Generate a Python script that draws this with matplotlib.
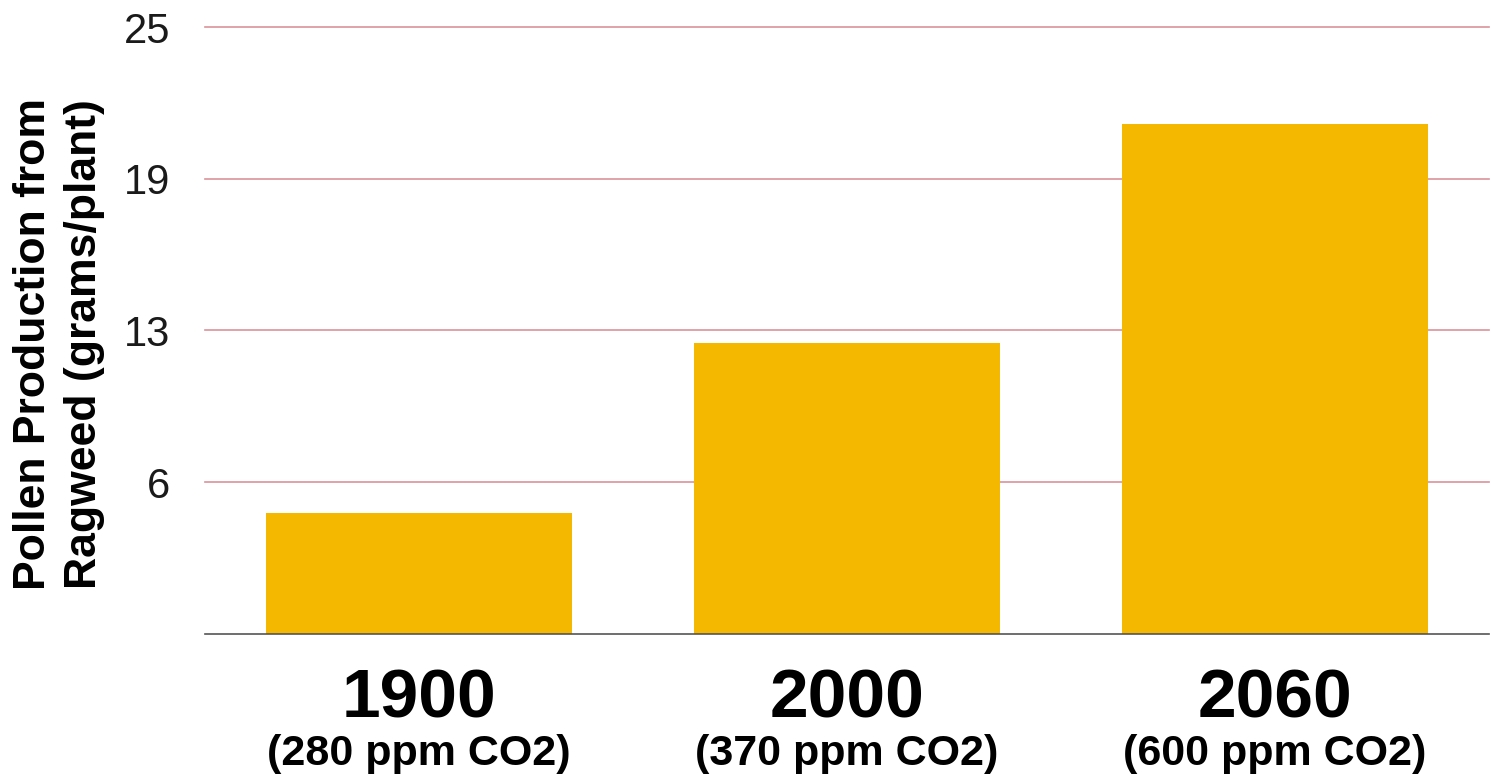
import matplotlib
matplotlib.use("Agg")
import matplotlib.pyplot as plt

years = ["1900", "2000", "2060"]
co2 = ["(280 ppm CO2)", "(370 ppm CO2)", "(600 ppm CO2)"]
pollen = [5, 12, 21]
ytick_vals = [6.25, 12.5, 18.75, 25]
ytick_labels = ["6", "13", "19", "25"]

plt.rcParams['font.family'] = ['Liberation Sans', 'DejaVu Sans']

fig = plt.figure(figsize=(14.91, 7.74), dpi=100)
ax = fig.add_axes([0.1375, 0.1809, 0.8612, 0.7842])

x = range(len(years))
ax.bar(x, pollen, width=0.713, color='#f5b800', zorder=2)

ax.set_xlim(-0.5, 2.5)
ax.set_ylim(0, 25)
ax.set_yticks(ytick_vals)
ax.set_yticklabels(ytick_labels, fontsize=30, color='#1a1a1a')
ax.tick_params(axis='y', length=0, pad=25)
ax.set_xticks([])
ax.yaxis.grid(True, color='#d9939b', linewidth=1.2, zorder=0)
for gl in ax.get_ygridlines():
    gl.set_clip_on(False)

for s in ['top', 'right', 'left']:
    ax.spines[s].set_visible(False)
ax.spines['bottom'].set_color('#555555')
ax.spines['bottom'].set_linewidth(1.2)
ax.spines['bottom'].set_zorder(3)

for i in x:
    ax.text(i, -0.055, years[i], transform=ax.get_xaxis_transform(),
            ha='center', va='top', fontsize=50, fontweight='bold')
    ax.text(i, -0.165, co2[i], transform=ax.get_xaxis_transform(),
            ha='center', va='top', fontsize=31, fontweight='bold')

fig.text(0.0395, 0.555, "Pollen Production from\nRagweed (grams/plant)",
         rotation=90, ha='center', va='center', fontsize=32,
         fontweight='bold', linespacing=1.3)

fig.savefig("out.png", dpi=100)
